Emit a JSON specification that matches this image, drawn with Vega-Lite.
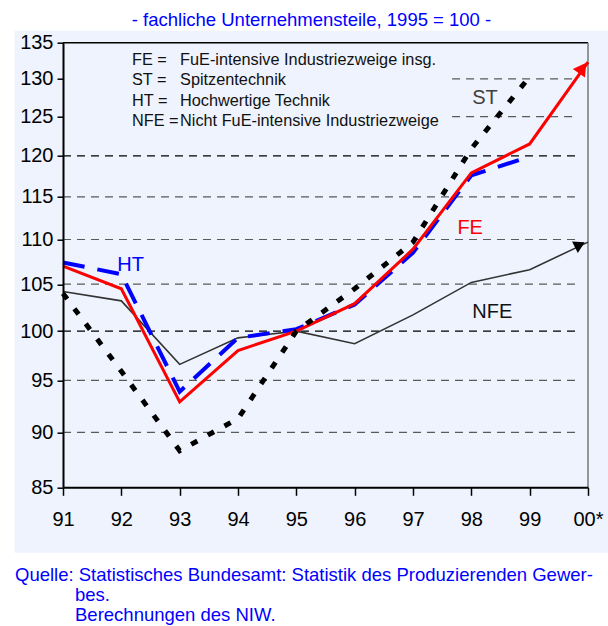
{
  "$schema": "https://vega.github.io/schema/vega-lite/v6.json",
  "width": 525,
  "height": 444.6,
  "autosize": {"type": "none"},
  "padding": {"left": 63, "top": 42.7, "right": 20, "bottom": 138.7},
  "background": "white",
  "config": {"view": {"stroke": null}},
  "title": {
    "text": "- fachliche Unternehmensteile, 1995 = 100 -",
    "color": "#0000FF",
    "font": "Liberation Sans",
    "fontSize": 18.5,
    "fontWeight": "normal",
    "anchor": "middle",
    "dx": -14,
    "offset": 1
  },
  "data": {"values": [{}]},
  "datasets": {
    "series": [
      {"series": "FE", "year": 91, "value": 107.0},
      {"series": "FE", "year": 92, "value": 104.5},
      {"series": "FE", "year": 93, "value": 92.9},
      {"series": "FE", "year": 94, "value": 98.0},
      {"series": "FE", "year": 95, "value": 100.0},
      {"series": "FE", "year": 96, "value": 102.9},
      {"series": "FE", "year": 97, "value": 108.9},
      {"series": "FE", "year": 98, "value": 117.9},
      {"series": "FE", "year": 99, "value": 121.5},
      {"series": "FE", "year": 100, "value": 132.3},
      {"series": "HT", "year": 91, "value": 107.4},
      {"series": "HT", "year": 92, "value": 106.1},
      {"series": "HT", "year": 93, "value": 93.9},
      {"series": "HT", "year": 94, "value": 99.3},
      {"series": "HT", "year": 95, "value": 100.2},
      {"series": "HT", "year": 96, "value": 102.8},
      {"series": "HT", "year": 97, "value": 108.5},
      {"series": "HT", "year": 98, "value": 117.6},
      {"series": "HT", "year": 99, "value": 119.9},
      {"series": "ST", "year": 91, "value": 104.0},
      {"series": "ST", "year": 92, "value": 95.9},
      {"series": "ST", "year": 93, "value": 88.3},
      {"series": "ST", "year": 94, "value": 91.3},
      {"series": "ST", "year": 95, "value": 100.0},
      {"series": "ST", "year": 96, "value": 104.5},
      {"series": "ST", "year": 97, "value": 109.7},
      {"series": "ST", "year": 98, "value": 120.9},
      {"series": "ST", "year": 99, "value": 130.3},
      {"series": "NFE", "year": 91, "value": 104.2},
      {"series": "NFE", "year": 92, "value": 103.2},
      {"series": "NFE", "year": 93, "value": 96.6},
      {"series": "NFE", "year": 94, "value": 99.3},
      {"series": "NFE", "year": 95, "value": 100.0},
      {"series": "NFE", "year": 96, "value": 98.7},
      {"series": "NFE", "year": 97, "value": 101.7},
      {"series": "NFE", "year": 98, "value": 105.2},
      {"series": "NFE", "year": 99, "value": 106.6},
      {"series": "NFE", "year": 100, "value": 109.7}
    ],
    "arrows": [
      {"series": "FE", "year": 99.907, "value": 131.5},
      {"series": "NFE", "year": 99.86, "value": 109.4}
    ],
    "grid": [
      {"value": 90}, {"value": 95}, {"value": 100}, {"value": 105}, {"value": 110},
      {"value": 115}, {"value": 120}, {"value": 125}, {"value": 130}
    ],
    "labels": [
      {"label": "HT", "year": 92.16, "value": 107.1},
      {"label": "ST", "year": 98.235, "value": 127.5},
      {"label": "FE", "year": 97.98, "value": 111.3},
      {"label": "NFE", "year": 98.36, "value": 102.0}
    ],
    "legend": [
      {"code": "FE =", "desc": "FuE-intensive Industriezweige insg.", "value": 132.6},
      {"code": "ST =", "desc": "Spitzentechnik", "value": 129.8},
      {"code": "HT =", "desc": "Hochwertige Technik", "value": 127.1},
      {"code": "NFE =", "desc": "Nicht FuE-intensive Industriezweige", "value": 124.4}
    ]
  },
  "layer": [
    {
      "mark": {"type": "rect", "color": "#EEF3FE", "clip": false},
      "encoding": {
        "x": {"datum": 90.168, "type": "quantitative"},
        "x2": {"datum": 100.343},
        "y": {"datum": 79.4, "type": "quantitative"},
        "y2": {"datum": 136.7}
      }
    },
    {
      "data": {"name": "grid"},
      "transform": [{"filter": "datum.value <= 120"}],
      "mark": {"type": "rule", "strokeDash": [8, 6], "strokeWidth": 1.2},
      "encoding": {
        "x": {"datum": 91, "type": "quantitative"},
        "x2": {"datum": 99.83},
        "y": {"field": "value", "type": "quantitative"},
        "color": {"condition": {"test": "datum.value == 100 || datum.value == 120", "value": "#000000"}, "value": "#5a5a5a"}
      }
    },
    {
      "data": {"name": "grid"},
      "transform": [{"filter": "datum.value >= 125"}],
      "mark": {"type": "rule", "strokeDash": [8, 6], "strokeWidth": 1.2, "color": "#5a5a5a"},
      "encoding": {
        "x": {"datum": 97.67, "type": "quantitative"},
        "x2": {"datum": 99.83},
        "y": {"field": "value", "type": "quantitative"}
      }
    },
    {
      "mark": {"type": "rule", "color": "#000000", "strokeWidth": 1.5},
      "encoding": {
        "x": {"datum": 91, "type": "quantitative"},
        "x2": {"datum": 100},
        "y": {"datum": 135, "type": "quantitative"}
      }
    },
    {
      "mark": {"type": "rule", "color": "#777777", "strokeWidth": 1.5},
      "encoding": {
        "x": {"datum": 100, "type": "quantitative"},
        "y": {"datum": 85, "type": "quantitative"},
        "y2": {"datum": 135}
      }
    },
    {
      "data": {"name": "series"},
      "transform": [{"filter": "datum.series == 'NFE'"}],
      "mark": {"type": "line", "color": "#333333", "strokeWidth": 1.6},
      "encoding": {
        "x": {
          "field": "year",
          "type": "quantitative",
          "scale": {"domain": [91, 100], "nice": false, "zero": false},
          "axis": {
            "title": null,
            "values": [91, 92, 93, 94, 95, 96, 97, 98, 99, 100],
            "labelExpr": "datum.value == 100 ? '00*' : datum.value",
            "grid": false,
            "domainColor": "#000000",
            "domainWidth": 2,
            "tickColor": "#000000",
            "tickWidth": 1.5,
            "tickSize": 8,
            "labelFont": "Liberation Sans",
            "labelFontSize": 20,
            "labelColor": "#000000",
            "labelPadding": 14,
            "labelFlush": false,
            "labelOverlap": false,
            "zindex": 2
          }
        },
        "y": {
          "field": "value",
          "type": "quantitative",
          "scale": {"type": "log", "domain": [85, 135], "nice": false, "zero": false},
          "axis": {
            "title": null,
            "values": [85, 90, 95, 100, 105, 110, 115, 120, 125, 130, 135],
            "format": "d",
            "grid": false,
            "domainColor": "#000000",
            "domainWidth": 2,
            "tickColor": "#000000",
            "tickWidth": 1.5,
            "tickSize": 6,
            "labelFont": "Liberation Sans",
            "labelFontSize": 20,
            "labelColor": "#000000",
            "labelPadding": 4,
            "labelOverlap": false,
            "zindex": 2
          }
        }
      }
    },
    {
      "data": {"name": "series"},
      "transform": [{"filter": "datum.series == 'HT'"}],
      "mark": {"type": "line", "color": "#0000FF", "strokeWidth": 4, "strokeDash": [22, 13], "strokeCap": "butt"},
      "encoding": {
        "x": {"field": "year", "type": "quantitative"},
        "y": {"field": "value", "type": "quantitative"}
      }
    },
    {
      "data": {"name": "series"},
      "transform": [{"filter": "datum.series == 'FE'"}],
      "mark": {"type": "line", "color": "#FF0000", "strokeWidth": 3, "strokeJoin": "miter"},
      "encoding": {
        "x": {"field": "year", "type": "quantitative"},
        "y": {"field": "value", "type": "quantitative"}
      }
    },
    {
      "data": {"name": "series"},
      "transform": [{"filter": "datum.series == 'ST'"}],
      "mark": {"type": "line", "color": "#000000", "strokeWidth": 5, "strokeDash": [7, 12], "strokeCap": "butt"},
      "encoding": {
        "x": {"field": "year", "type": "quantitative"},
        "y": {"field": "value", "type": "quantitative"}
      }
    },
    {
      "data": {"name": "arrows"},
      "transform": [{"filter": "datum.series == 'FE'"}],
      "mark": {"type": "point", "shape": "triangle-up", "filled": true, "color": "#FF0000", "size": 220, "angle": 35, "opacity": 1},
      "encoding": {
        "x": {"field": "year", "type": "quantitative"},
        "y": {"field": "value", "type": "quantitative"}
      }
    },
    {
      "data": {"name": "arrows"},
      "transform": [{"filter": "datum.series == 'NFE'"}],
      "mark": {"type": "point", "shape": "triangle-up", "filled": true, "color": "#000000", "size": 160, "angle": 63, "opacity": 1},
      "encoding": {
        "x": {"field": "year", "type": "quantitative"},
        "y": {"field": "value", "type": "quantitative"}
      }
    },
    {
      "data": {"name": "labels"},
      "mark": {"type": "text", "font": "Liberation Sans", "fontSize": 20, "align": "center", "baseline": "middle"},
      "encoding": {
        "x": {"field": "year", "type": "quantitative"},
        "y": {"field": "value", "type": "quantitative"},
        "text": {"field": "label"},
        "color": {"field": "label", "type": "nominal", "scale": {"domain": ["HT", "ST", "FE", "NFE"], "range": ["#0000FF", "#404040", "#FF0000", "#111111"]}, "legend": null}
      }
    },
    {
      "data": {"name": "legend"},
      "mark": {"type": "text", "font": "Liberation Sans", "fontSize": 16.3, "align": "left", "baseline": "middle", "color": "#111111"},
      "encoding": {
        "x": {"datum": 92.183, "type": "quantitative"},
        "y": {"field": "value", "type": "quantitative"},
        "text": {"field": "code"}
      }
    },
    {
      "data": {"name": "legend"},
      "mark": {"type": "text", "font": "Liberation Sans", "fontSize": 16.3, "align": "left", "baseline": "middle", "color": "#111111"},
      "encoding": {
        "x": {"datum": 93.006, "type": "quantitative"},
        "y": {"field": "value", "type": "quantitative"},
        "text": {"field": "desc"}
      }
    },
    {
      "mark": {"type": "text", "font": "Liberation Sans", "fontSize": 18.5, "align": "left", "baseline": "alphabetic", "color": "#0000FF"},
      "encoding": {
        "x": {"datum": 90.177, "type": "quantitative"},
        "y": {"datum": 77.13, "type": "quantitative"},
        "text": {"value": "Quelle: Statistisches Bundesamt: Statistik des Produzierenden Gewer-"}
      }
    },
    {
      "mark": {"type": "text", "font": "Liberation Sans", "fontSize": 18.5, "align": "left", "baseline": "alphabetic", "color": "#0000FF", "lineHeight": 20},
      "encoding": {
        "x": {"datum": 91.206, "type": "quantitative"},
        "y": {"datum": 75.54, "type": "quantitative"},
        "text": {"value": ["bes.", "Berechnungen des NIW."]}
      }
    }
  ]
}
